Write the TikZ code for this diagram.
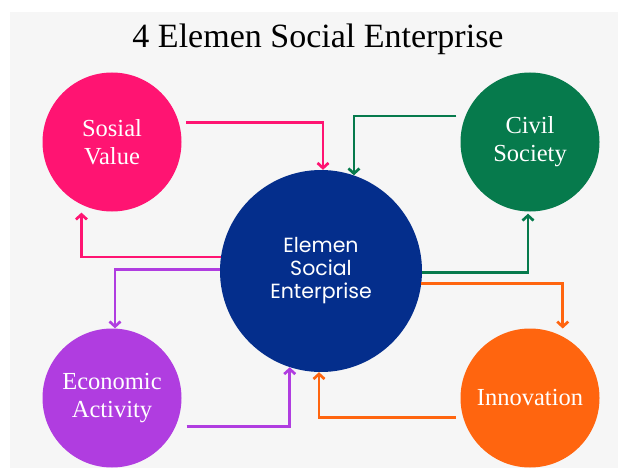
\documentclass[tikz,border=0pt]{standalone}
\usepackage{fontspec}
\setmainfont{Liberation Serif}
\newfontfamily\centrefont{Poppins}
\usepackage{xcolor}
\usetikzlibrary{
  positioning,
  calc,
  arrows.meta
}

\definecolor{bgGray}{HTML}{F6F6F6}
\definecolor{svPink}{HTML}{FF1472}
\definecolor{csGreen}{HTML}{067A4C}
\definecolor{eseBlue}{HTML}{042E8C}
\definecolor{eaPurple}{HTML}{B03DE0}
\definecolor{inOrange}{HTML}{FF650F}

\tikzset{
  element/.style={circle,minimum size=139pt,inner sep=0pt,text=white,align=center,
    font=\fontsize{24.5}{28}\selectfont},
  flow/.style={line width=2.7pt,-{Straight Barb[length=5pt,width=11pt]}}
}

\begin{document}
\begin{tikzpicture}[x=1pt,y=-1pt]
  \useasboundingbox (0,0) rectangle (618,468);
  \fill[white] (0,0) rectangle (618,468);
  \fill[bgGray] (10,12) rectangle (618,468);

  \node[anchor=base,font=\fontsize{34}{40}\selectfont] (title) at (318,48) {4 Elemen Social Enterprise};

  \node[element,fill=svPink]   (sv) at (112,142) {Sosial\\Value};
  \node[element,fill=csGreen]  (cs) at (530,142) {Civil\\Society};
  \node[element,fill=eaPurple] (ea) at (112,398) {Economic\\Activity};
  \node[element,fill=inOrange] (in) at (530,398) {Innovation};
  \node[circle,minimum size=202pt,inner sep=0pt,fill=eseBlue,text=white,align=center,
    font=\centrefont\fontsize{20.5}{23}\selectfont] (ese) at (321,271) {Elemen\\Social\\Enterprise};

  % pink
  \draw[flow,svPink] ([xshift=7pt]sv.16) -| ([xshift=2pt]ese.north);
  \draw[flow,svPink] (ese.172.6) -| ([yshift=-8pt]sv.244.4);
  % green
  \draw[flow,csGreen] ([xshift=-9pt]cs.158) -| (ese.71.6);
  \draw[flow,csGreen] (ese.-1) -| ([xshift=-2pt,yshift=-2pt]cs.south);
  % purple
  \draw[flow,eaPurple] (ese.179) -| ([xshift=3pt]ea.north);
  \draw[flow,eaPurple] ([xshift=11pt]ea.-24) -| (ese.252.1);
  % orange
  \draw[flow,inOrange] (ese.-7) -| ([yshift=8pt]in.62.3);
  \draw[flow,inOrange] ([xshift=-7pt]in.196.8) -| ([xshift=-2pt]ese.south);
\end{tikzpicture}
\end{document}
